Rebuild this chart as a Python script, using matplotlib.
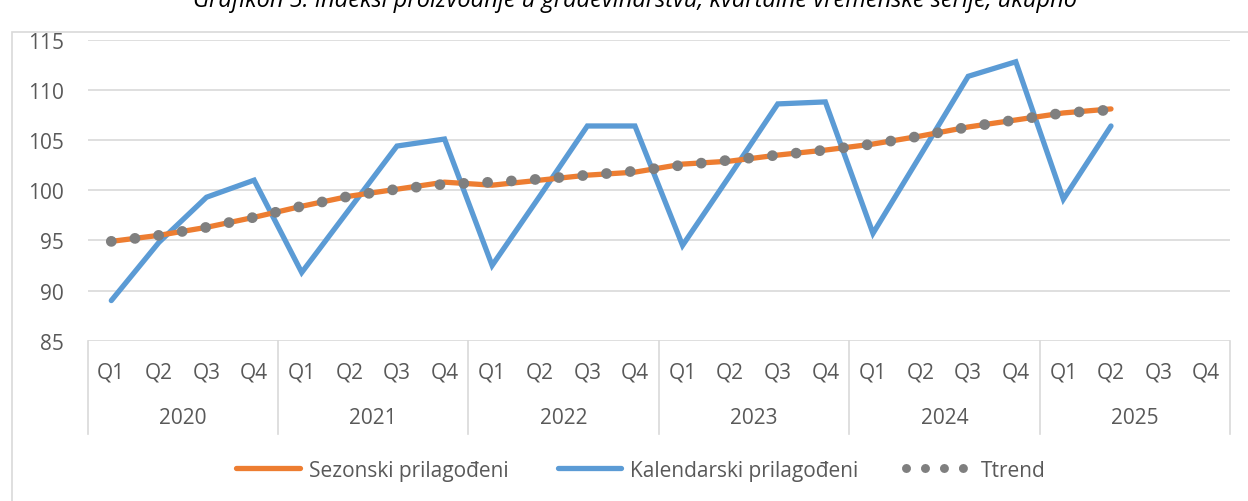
import numpy as np
import matplotlib
matplotlib.use("Agg")
import matplotlib.pyplot as plt
from matplotlib.lines import Line2D
from matplotlib.patches import Rectangle

# ---------------- data ----------------
years = ["2020", "2021", "2022", "2023", "2024", "2025"]
quarters = ["Q1", "Q2", "Q3", "Q4"]

sezonski = [94.9, 95.5, 96.3, 97.3, 98.4, 99.4, 100.1, 100.8,
            100.5, 101.0, 101.5, 101.8, 102.6, 102.9, 103.5, 104.0,
            104.6, 105.4, 106.3, 107.0, 107.7, 108.1]
kalendarski = [89.0, 94.8, 99.3, 101.0, 91.8, 98.1, 104.4, 105.1,
               92.5, 99.4, 106.4, 106.4, 94.5, 101.5, 108.6, 108.8,
               95.7, 103.5, 111.35, 112.8, 99.1, 106.4]
trend = [94.9, 95.5, 96.3, 97.3, 98.4, 99.4, 100.1, 100.6,
         100.8, 101.1, 101.5, 101.9, 102.5, 103.0, 103.5, 104.0,
         104.6, 105.4, 106.3, 107.0, 107.7, 108.0]

y_ticks = [85, 90, 95, 100, 105, 110, 115]
labels = ["Sezonski prilagođeni", "Kalendarski prilagođeni", "Ttrend"]
title = "Grafikon 5. Indeksi proizvodnje u građevinarstvu, kvartalne vremenske serije, ukupno"

ORANGE = "#ED7D31"
BLUE = "#5B9BD5"
GREY = "#7F7F7F"
TXT = "#595959"
GRID = "#D9D9D9"
FS = 15

plt.rcParams["font.family"] = ["Open Sans", "DejaVu Sans"]

W, H = 1248, 502
fig = plt.figure(figsize=(W / 100, H / 100), dpi=100)
ax = fig.add_axes([87.5 / W, (H - 341.7) / H, (1230 - 87.5) / W, 301 / H])

# chart frame + title (cut off at the top, as in the source)
fig.patches.append(Rectangle((12 / W, -0.01), 1.0, (H - 33) / H + 0.01,
                             transform=fig.transFigure, fill=False,
                             edgecolor=GRID, linewidth=1.2))
fig.text(635 / W, 1 - 1 / H, title, ha="center", va="center",
         fontsize=17, style="italic", color="#000000")

n = len(years) * len(quarters)
x = np.arange(len(sezonski))

ax.plot(x, sezonski, color=ORANGE, lw=3.8, solid_capstyle="round", zorder=3)
ax.plot(x, kalendarski, color=BLUE, lw=3.8, solid_capstyle="round",
        solid_joinstyle="miter", zorder=2)
ax.plot(x, trend, color=GREY, lw=7.8, linestyle=(0, (0.001, 2.2)),
        dash_capstyle="round", zorder=4)

ax.set_xlim(-0.5, n - 0.5)
ax.set_ylim(85, 115)
ax.set_yticks(y_ticks)
ax.set_xticks([])
ax.tick_params(axis="y", length=0, pad=17, labelsize=FS, labelcolor=TXT)
ax.grid(axis="y", color=GRID, lw=1.2)
ax.set_axisbelow(True)
for s in ax.spines.values():
    s.set_visible(False)

# two-level category axis
tr = ax.get_xaxis_transform()
for i in range(n):
    ax.text(i, -0.104, quarters[i % 4], transform=tr, ha="center", va="center",
            fontsize=FS, color=TXT)
for j, yr in enumerate(years):
    ax.text(j * 4 + 1.5, -0.2535, yr, transform=tr, ha="center", va="center",
            fontsize=FS, color=TXT)
for j in range(len(years) + 1):
    ax.plot([j * 4 - 0.5] * 2, [0, -0.31], transform=tr, color=GRID, lw=1.2,
            clip_on=False)

# legend, laid out by hand like the spreadsheet one
ly = (H - 469) / H
fig.add_artist(Line2D([236 / W, 300 / W], [ly, ly], color=ORANGE, lw=3.8,
                      solid_capstyle="round"))
fig.add_artist(Line2D([558 / W, 621 / W], [ly, ly], color=BLUE, lw=3.8,
                      solid_capstyle="round"))
fig.add_artist(Line2D([906 / W, 963 / W], [ly, ly], color=GREY, lw=6.5,
                      linestyle=(0, (0.001, 2.1)), dash_capstyle="round"))
for lx, lab in zip([309, 630, 981], labels):
    fig.text(lx / W, ly, lab, ha="left", va="center_baseline", fontsize=FS,
             color=TXT)

fig.savefig("out.png", dpi=100)
